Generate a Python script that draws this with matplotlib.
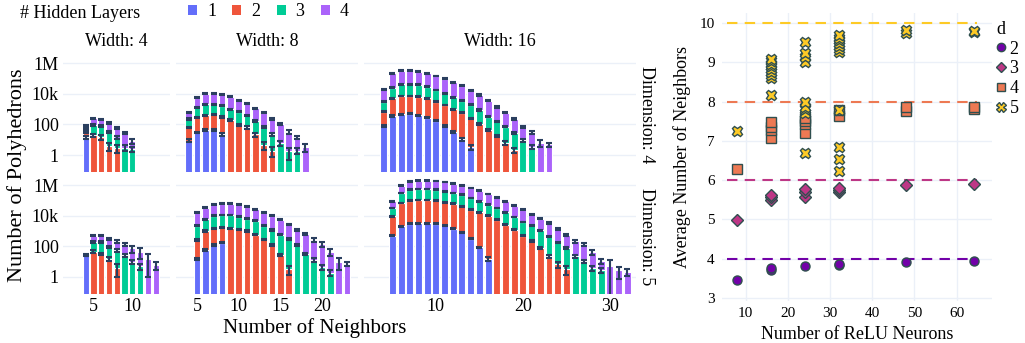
import numpy as np
import matplotlib.pyplot as plt
from matplotlib.patches import Patch
from matplotlib.lines import Line2D

plt.rcParams['font.family'] = ['Liberation Serif', 'DejaVu Serif']

W, H = 1025, 343

# ---- left: polyhedron counts per number of neighbors, stacked by # hidden layers ----
layer_names = ['1', '2', '3', '4']
layer_colors = ['#636efa', '#EF553B', '#00cc96', '#ab63fa']
err_color = '#2a3f5f'

# width 4, dimension 4  (neighbors 4..10)
w4_d4_x = list(range(4, 11))
w4_d4 = [[14.5, 0, 0, 0, 0, 0, 0],
         [14, 20, 14.5, 3.9, 2.8, 0, 0],
         [21, 71, 65, 29, 11, 3.0, 2.3],
         [37, 160, 135, 96, 47, 26, 6]]
w4_d4_err = [[3, 0, 0, 0, 0, 0, 0],
             [3, 5, 5, 2, 1.5, 0, 0],
             [5, 10, 10, 6, 3, 1.2, 0.8],
             [8, 25, 20, 15, 8, 5, 3]]

# width 4, dimension 5  (neighbors 4..13)
w4_d5_x = list(range(4, 14))
w4_d5 = [[28] + [0] * 9,
         [0, 45, 31, 15.5, 4, 0, 0, 0, 0, 0],
         [0, 145, 160, 80, 50, 25, 9.5, 5, 0, 0],
         [0, 310, 335, 220, 150, 116, 64, 39, 15, 6]]
w4_d5_err = [[5] + [0] * 9,
             [0, 8, 6, 5, 3, 0, 0, 0, 0, 0],
             [0, 25, 25, 15, 10, 6, 3, 2, 0, 0],
             [0, 50, 60, 50, 35, 30, 35, 30, 14, 3]]

# width 8, dimension 4  (neighbors 4..18)
w8_d4_x = list(range(4, 19))
w8_d4 = [[8.7, 30, 43, 43, 22] + [0] * 10,
         [56, 258, 346, 414, 294, 195, 91, 65, 22, 4.5, 1.9, 0, 0, 0, 0],
         [159, 1030, 1650, 1590, 1340, 805, 585, 324, 152, 60, 21, 6.3, 1.7, 1.9, 0],
         [393, 4300, 7730, 8670, 7670, 5460, 3210, 2010, 950, 524, 211, 101, 31, 12.6, 3.5]]
w8_d4_err = [[2, 4, 5, 5, 4] + [0] * 10,
             [8, 30, 40, 50, 40, 30, 15, 12, 6, 2.5, 1.2, 0, 0, 0, 0],
             [20, 100, 150, 150, 120, 80, 60, 40, 20, 10, 5, 2.5, 1.2, 0.8, 0],
             [60, 400, 700, 800, 700, 500, 300, 200, 100, 60, 30, 15, 8, 4, 2]]

# width 8, dimension 5  (neighbors 5..23)
w8_d5_x = list(range(5, 24))
w8_d5 = [[15, 58, 123, 174] + [0] * 15,
         [248, 942, 1390, 1600, 1510, 1320, 1000, 562, 288, 123, 27.5, 3.2] + [0] * 7,
         [1980, 4890, 8260, 9440, 9710, 7390, 5170, 4010, 1950, 1050, 535, 299, 123,
          31.6, 12.9, 4.3, 1.9, 0, 0],
         [13600, 28000, 41500, 47700, 47700, 42600, 33600, 21700, 13600, 8600, 4810,
          2450, 1050, 614, 250, 141, 43, 10, 7]]
w8_d5_err = [[3, 8, 15, 20] + [0] * 15,
             [30, 80, 100, 120, 120, 100, 80, 50, 30, 15, 6, 1.8] + [0] * 7,
             [150, 400, 600, 700, 700, 600, 400, 300, 150, 100, 50, 30, 15, 5, 3, 1.5, 0.8, 0, 0],
             [1500, 2500, 3500, 4000, 4000, 3500, 3000, 2000, 1300, 900, 500, 300, 150,
              100, 60, 50, 22, 7, 2]]

# width 16, dimension 4  (neighbors 4..23)
w16_d4_x = list(range(4, 24))
w16_d4 = [[79, 355, 457, 501, 389, 275, 174, 79, 33, 10.7, 3.2] + [0] * 9,
          [597, 4660, 6790, 6740, 6070, 4740, 2850, 1780, 944, 578, 248, 107, 43, 17.4,
           6.3, 2.1] + [0] * 4,
          [2340, 20100, 34400, 34400, 31600, 24500, 14800, 8850, 4910, 2960, 1610, 764,
           273, 142, 65, 24, 9.5, 3.5, 0, 0],
          [17400, 194000, 282000, 282000, 237000, 189000, 127000, 82600, 50300, 28800,
           14000, 7450, 3230, 1220, 518, 198, 61, 25.5, 6.3, 5]]
w16_d4_err = [[8, 30, 40, 40, 35, 25, 15, 8, 4, 2, 1] + [0] * 9,
              [50, 300, 400, 400, 400, 300, 200, 120, 70, 40, 20, 10, 5, 3, 1.5, 0.8] + [0] * 4,
              [200, 1500, 2500, 2500, 2300, 1800, 1100, 700, 400, 250, 130, 70, 30, 15, 8,
               4, 2, 1.2, 0, 0],
              [1500, 15000, 20000, 20000, 18000, 15000, 10000, 7000, 4000, 2500, 1200, 700,
               350, 150, 70, 30, 12, 6, 3, 1.5]]

# width 16, dimension 5  (neighbors 5..32)
w16_d5_x = list(range(5, 33))
w16_d5 = [[501, 1995, 2884, 3311, 3311, 3020, 2344, 1413, 813, 316, 85, 14.8] + [0] * 16,
          [8620, 65600, 92600, 106000, 106000, 97000, 71800, 58800, 39900, 24200, 16500,
           9990, 5500, 2570, 1230, 501, 214, 78, 22, 7, 3.3] + [0] * 7,
          [22500, 234000, 406000, 440000, 440000, 401000, 315000, 242000, 194000, 117000,
           68500, 42500, 26100, 14000, 6900, 3390, 2130, 1020, 425, 175, 75, 22, 10.5,
           3.9, 2.7] + [0] * 3,
          [53500, 610000, 1237000, 1446000, 1446000, 1404000, 1196000, 928000, 678000,
           490000, 341000, 205000, 127000, 68500, 36500, 20700, 10500, 5210, 2860, 1170,
           497, 192, 118, 37, 7.8, 5.5, 2.7, 2.1]]
w16_d5_err = [[40, 150, 200, 250, 250, 200, 180, 110, 60, 30, 10, 4] + [0] * 16,
              [500, 3000, 4000, 5000, 5000, 4500, 3500, 3000, 2000, 1300, 900, 600, 350,
               180, 100, 50, 25, 12, 5, 3, 2] + [0] * 7,
              [1500, 12000, 20000, 22000, 22000, 20000, 16000, 12000, 10000, 6000, 3500,
               2200, 1400, 800, 400, 220, 150, 80, 40, 20, 12, 5, 3, 1.5, 1] + [0] * 3,
              [4000, 40000, 70000, 80000, 80000, 80000, 70000, 55000, 40000, 30000, 22000,
               14000, 9000, 5000, 3000, 1800, 1000, 600, 350, 170, 80, 40, 30, 12, 4, 8, 2, 1]]

widths = ['4', '8', '16']
dims = ['4', '5']
x_ticks = [[5, 10], [5, 10, 15, 20], [10, 20, 30]]
y_ticks = [1, 100, 1e4, 1e6]
y_ticklabels = ['1', '100', '10k', '1M']

panels = [[(w4_d4_x, w4_d4, w4_d4_err), (w8_d4_x, w8_d4, w8_d4_err), (w16_d4_x, w16_d4, w16_d4_err)],
          [(w4_d5_x, w4_d5, w4_d5_err), (w8_d5_x, w8_d5, w8_d5_err), (w16_d5_x, w16_d5, w16_d5_err)]]

# ---- right: average number of neighbors vs ReLU neurons ----
neurons_d2 = [8, 16, 16, 24, 32, 32, 48, 64]
avg_d2 = [3.45, 3.72, 3.77, 3.82, 3.83, 3.87, 3.91, 3.94]
neurons_d3 = [8, 16, 16, 16, 24, 24, 24, 32, 32, 32, 48, 64]
avg_d3 = [4.98, 5.5, 5.56, 5.62, 5.58, 5.7, 5.77, 5.7, 5.76, 5.81, 5.87, 5.9]
neurons_d4 = [8, 16, 16, 16, 16, 24, 24, 24, 24, 32, 32, 48, 48, 64, 64]
avg_d4 = [6.28, 7.08, 7.28, 7.35, 7.49, 7.19, 7.43, 7.5, 7.58, 7.64, 7.79, 7.77, 7.86, 7.8, 7.87]
neurons_d5 = [8] + [16] * 9 + [24] * 9 + [32] * 11 + [48] * 2 + [64] * 2
avg_d5 = [7.24,
          8.17, 8.6, 8.68, 8.75, 8.82, 8.9, 8.97, 9.03, 9.08,
          6.68, 7.7, 7.8, 7.87, 8.0, 9.02, 9.15, 9.23, 9.53,
          6.23, 6.53, 6.85, 7.78, 9.27, 9.35, 9.42, 9.5, 9.57, 9.63, 9.7,
          9.75, 9.82,
          9.77, 9.81]
d_labels = ['2', '3', '4', '5']
d_colors = ['#7201a8', '#bd3786', '#ed7953', '#fdca26']
d_markers = ['o', 'D', 's', 'X']
max_neighbors = [4, 6, 8, 10]


def rect(l, t, r, b):
    return [l / W, 1 - b / H, (r - l) / W, (b - t) / H]


fig = plt.figure(figsize=(W / 100, H / 100), dpi=100)

cols = [(63, 170), (176, 358), (364, 636)]
rows = [(57, 171.7), (179, 293.5)]
xlims = [(1.08, 14.85), (2.48, 24.32), (1.74, 33.0)]
ylo, yhi = 10 ** -1.09, 10 ** 6.4

for r, (top, bot) in enumerate(rows):
    for c, (left, right) in enumerate(cols):
        ax = fig.add_axes(rect(left, top, right, bot))
        ax.set_yscale('log')
        xs, vals, errs = panels[r][c]
        xs = np.array(xs)
        vals = np.array(vals, dtype=float)
        errs = np.array(errs, dtype=float)
        cum = np.zeros(len(xs))
        tops = []
        for k in range(4):
            v = vals[k]
            m = v > 0
            base = np.where(cum > 0, cum, 1e-3)
            ax.bar(xs[m], (cum + v - base)[m], bottom=base[m], width=0.8,
                   color=layer_colors[k], edgecolor='white', linewidth=0.8, zorder=2)
            cum = cum + v
            tops.append((xs[m], cum[m].copy(), errs[k][m]))
        for tx, ty, te in tops:
            lower = np.minimum(te, ty - 1e-3)
            ax.errorbar(tx, ty, yerr=[lower, te], fmt='none', ecolor=err_color,
                        elinewidth=1.5, capsize=2.3, capthick=1.5, zorder=3)
        ax.set_xlim(*xlims[c])
        ax.set_ylim(ylo, yhi)
        ax.set_yticks(y_ticks)
        ax.minorticks_off()
        ax.yaxis.grid(True, color='#EBF0F8', linewidth=1)
        ax.set_axisbelow(True)
        for s in ax.spines.values():
            s.set_visible(False)
        ax.tick_params(length=0, labelsize=13, colors='black', pad=3)
        if c == 0:
            ax.set_yticklabels(y_ticklabels)
        else:
            ax.set_yticklabels([])
        if r == 1:
            ax.set_xticks(x_ticks[c])
        else:
            ax.set_xticks([])
        if r == 0:
            fig.text((left + right) / 2 / W, 1 - 42 / H, 'Width: ' + widths[c],
                     ha='center', va='center', fontsize=13)
    fig.text(647 / W, 1 - (top + bot) / 2 / H, 'Dimension: ' + dims[r], rotation=-90,
             ha='center', va='center', fontsize=13)

fig.text(17 / W, 1 - 175 / H, 'Number of Polyhedrons', rotation=90,
         ha='center', va='center', fontsize=16)
fig.text(315 / W, 1 - 328 / H, 'Number of Neighbors', ha='center', va='center', fontsize=15)

fig.text(20 / W, 1 - 13 / H, '# Hidden Layers', ha='left', va='center', fontsize=13)
handles = [Patch(facecolor=col, edgecolor='none') for col in layer_colors]
fig.legend(handles, layer_names, ncol=4, loc='center left',
           bbox_to_anchor=(188 / W, 1 - 12 / H), frameon=False, fontsize=13,
           handlelength=0.5, handleheight=0.5, handletextpad=0.55, columnspacing=0.9,
           borderpad=0, borderaxespad=0)

# right panel
ax2 = fig.add_axes(rect(721.7, 13, 991.7, 300.5))
series = [(neurons_d2, avg_d2), (neurons_d3, avg_d3), (neurons_d4, avg_d4), (neurons_d5, avg_d5)]
for i, (nx, ny) in enumerate(series):
    ax2.hlines(max_neighbors[i], 5.5, 64.8, colors=d_colors[i], linestyles=(0, (5, 3.5)),
               linewidth=1.5, zorder=2)
msize = [6.5, 6, 6.5, 7.5]
for i, (nx, ny) in enumerate(series):
    ax2.plot(nx, ny, linestyle='none', marker=d_markers[i], markersize=msize[i],
             markerfacecolor=d_colors[i], markeredgecolor='#2F4F4F', markeredgewidth=1,
             zorder=3)
ax2.set_xlim(4.3, 68.3)
ax2.set_ylim(2.93, 10.26)
ax2.set_xticks([10, 20, 30, 40, 50, 60])
ax2.set_yticks([3, 4, 5, 6, 7, 8, 9, 10])
ax2.grid(True, color='#EBF0F8', linewidth=1)
ax2.set_axisbelow(True)
for s in ax2.spines.values():
    s.set_visible(False)
ax2.tick_params(length=0, labelsize=11, colors='black', pad=5)
ax2.set_xlabel('Number of ReLU Neurons', fontsize=13, labelpad=4)
ax2.set_ylabel('Average Number of Neighbors', fontsize=13, labelpad=6)

leg_handles = [Line2D([], [], linestyle='none', marker=d_markers[i], markersize=msize[i] - 0.5,
                      markerfacecolor=d_colors[i], markeredgecolor='#2F4F4F',
                      markeredgewidth=1) for i in range(4)]
leg = ax2.legend(leg_handles, d_labels, title='d', loc='upper left',
                 bbox_to_anchor=(996 / W, 1 - 21 / H), bbox_transform=fig.transFigure,
                 frameon=False, fontsize=13, title_fontsize=13, handlelength=0.5,
                 handletextpad=0.25, labelspacing=0.15, borderpad=0, borderaxespad=0)
leg._legend_box.align = 'left'

fig.savefig('out.png', dpi=100)
